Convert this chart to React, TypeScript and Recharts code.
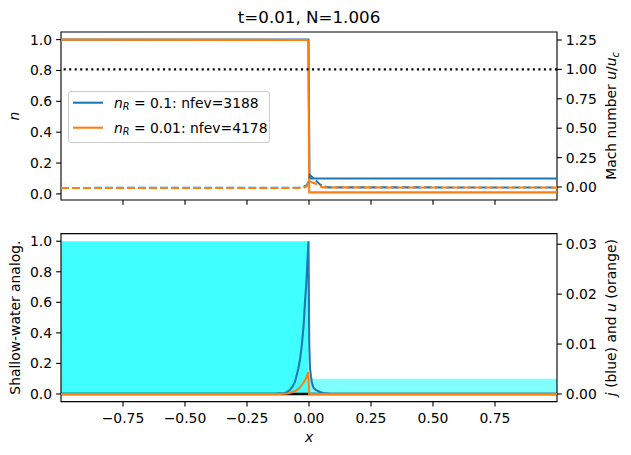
import React from 'react';
import { ComposedChart, Line, Area, XAxis, YAxis, ReferenceLine, ReferenceArea } from 'recharts';

const FONT = '"DejaVu Sans", Verdana, sans-serif';
const BLUE = '#1f77b4';
const ORANGE = '#ff7f0e';
const LW = 2.08;
const DASH = '7.7 3.33';
const DOT = '2.08 3.44';

// ---------- tick labels ----------
const xTicks = [-0.75, -0.5, -0.25, 0, 0.25, 0.5, 0.75];
const nTicks = [0, 0.2, 0.4, 0.6, 0.8, 1.0];
const machTicks = [0, 0.25, 0.5, 0.75, 1.0, 1.25];
const swTicks = [0, 0.2, 0.4, 0.6, 0.8, 1.0];
const juTicks = [0, 0.01, 0.02, 0.03];

// ---------- top panel: density n (left) and Mach number (right) ----------
const nBlueX = [-1, -0.002, 0.002, 1];
const nBlueY = [1.0, 1.0, 0.1, 0.1];
const nOrangeX = [-1, -0.01, -0.003, 0.001, 1];
const nOrangeY = [1.0, 0.998, 0.994, 0.01, 0.01];

const machBlueX = [-1, -0.04, -0.02, -0.008, -0.002, 0.004, 0.015, 0.031, 0.045, 0.058, 0.08, 1];
const machBlueY = [-0.008, -0.006, 0.004, 0.015, 0.05, 0.1, 0.08, 0.048, 0.02, 0.005, -0.003, -0.004];
const machOrangeX = [-1, -0.03, -0.015, -0.006, 0.0, 0.002, 0.012, 0.024, 0.04, 0.055, 1];
const machOrangeY = [-0.009, -0.008, -0.002, 0.015, 0.055, 0.05, 0.04, 0.03, 0.01, -0.003, -0.005];
const machSonic = 1.0;

// ---------- bottom panel: shallow-water analog (left), j and u (right) ----------
const swLeftX = [-1, -0.002];
const swLeftY = [1.0, 1.0];
const swRightX = [-0.002, 1];
const swRightY = [0.1, 0.1];
const baseX = [-1, 1];
const baseY = [0, 0];

const jX = [-1, -0.2, -0.13, -0.097, -0.077, -0.066, -0.056, -0.043, -0.036, -0.029, -0.022, -0.016, -0.011, -0.007, -0.002, 0.001, 0.004, 0.008, 0.011, 0.016, 0.021, 0.031, 0.045, 0.058, 0.08, 0.1, 1];
const jY = [0, 0, 0.00003, 0.00014, 0.0008, 0.0015, 0.0025, 0.0051, 0.007, 0.0098, 0.0135, 0.0185, 0.022, 0.026, 0.0306, 0.01, 0.0052, 0.0035, 0.0025, 0.0015, 0.0011, 0.0007, 0.0004, 0.00015, 0.00004, 0, 0];
const uX = [-1, -0.12, -0.083, -0.056, -0.04, -0.029, -0.018, -0.01, -0.003, 0.001, 1];
const uY = [0, 0, 0.0001, 0.0006, 0.0011, 0.0018, 0.0026, 0.0034, 0.0044, 0, 0];

const zip = (xs: number[], ys: number[]) => xs.map((x, i) => ({ x, y: ys[i] }));

const nDom: [number, number] = [-0.0395, 1.0495];
const machDom: [number, number] = [-0.1105, 1.318];
const swDom: [number, number] = [-0.05, 1.05];
const juDom: [number, number] = [-0.00153, 0.03213];

const tickStyle = { fill: '#000', fontSize: 13.9, fontFamily: FONT };
const tickLine = { stroke: '#000', strokeWidth: 1.11 };
const fmtX = (v: number) => (v < 0 ? '\u2212' : '') + Math.abs(v).toFixed(2);
const fmt1 = (v: number) => v.toFixed(1);
const fmt2 = (v: number) => v.toFixed(2);

const Title = () => (
  <text x={309} y={23} textAnchor="middle" fontFamily={FONT} fontSize={16.7} fill="#000">
    t=0.01, N=1.006
  </text>
);
const NLabel = () => (
  <text x={19} y={116} transform="rotate(-90 19 116)" textAnchor="middle" fontFamily={FONT} fontSize={13.9} fill="#000" fontStyle="italic">
    n
  </text>
);
const MachLabel = () => (
  <text x={616} y={116} transform="rotate(-90 616 116)" textAnchor="middle" fontFamily={FONT} fontSize={13.9} fill="#000">
    Mach number <tspan fontStyle="italic">u</tspan>/<tspan fontStyle="italic">u</tspan>
    <tspan fontStyle="italic" fontSize={9.7} dy={3}>c</tspan>
  </text>
);
const SwLabel = () => (
  <text x={20} y={102.6} transform="rotate(-90 20 102.6)" textAnchor="middle" fontFamily={FONT} fontSize={13.9} fill="#000">
    Shallow-water analog.
  </text>
);
const JuLabel = () => (
  <text x={616} y={102.6} transform="rotate(-90 616 102.6)" textAnchor="middle" fontFamily={FONT} fontSize={13.9} fill="#000">
    <tspan fontStyle="italic">j</tspan> (blue) and <tspan fontStyle="italic">u</tspan> (orange)
  </text>
);
const XLabel = () => (
  <text x={309} y={227} textAnchor="middle" fontFamily={FONT} fontSize={13.9} fill="#000" fontStyle="italic">
    x
  </text>
);

const LegendBox = () => (
  <div
    style={{
      position: 'absolute',
      left: 68,
      top: 91,
      width: 202,
      height: 52,
      boxSizing: 'border-box',
      border: '1px solid #cccccc',
      borderRadius: 3,
      background: 'rgba(255,255,255,0.8)',
    }}
  >
    <svg width={202} height={52} style={{ position: 'absolute', left: -1, top: -1 }}>
      <line x1={5} x2={35} y1={11.7} y2={11.7} stroke={BLUE} strokeWidth={LW} />
      <line x1={5} x2={35} y1={36.7} y2={36.7} stroke={ORANGE} strokeWidth={LW} />
      <text x={46} y={16.5} fontFamily={FONT} fontSize={13.9} fill="#000">
        <tspan fontStyle="italic">n</tspan>
        <tspan fontStyle="italic" fontSize={9.7} dy={2.5}>R</tspan>
        <tspan dy={-2.5}>{' = 0.1: nfev=3188'}</tspan>
      </text>
      <text x={46} y={41.5} fontFamily={FONT} fontSize={13.9} fill="#000">
        <tspan fontStyle="italic">n</tspan>
        <tspan fontStyle="italic" fontSize={9.7} dy={2.5}>R</tspan>
        <tspan dy={-2.5}>{' = 0.01: nfev=4178'}</tspan>
      </text>
    </svg>
  </div>
);

export default function App() {
  return (
    <div style={{ position: 'absolute', left: 0, top: 0, width: 631, height: 455, background: '#fff' }}>
      <div style={{ position: 'absolute', left: 0, top: 0 }}>
        <ComposedChart width={631} height={215} margin={{ top: 32, right: 0, bottom: 0, left: 0 }}>
          <XAxis
            dataKey="x"
            type="number"
            domain={[-1, 1]}
            allowDataOverflow
            ticks={xTicks}
            interval={0}
            height={15}
            axisLine={false}
            tickLine={tickLine}
            tickSize={4.86}
            tickFormatter={() => ''}
            label={<Title />}
          />
          <YAxis
            yAxisId="left"
            type="number"
            domain={nDom}
            allowDataOverflow
            ticks={nTicks}
            interval={0}
            width={61}
            axisLine={false}
            tickLine={tickLine}
            tickSize={4.86}
            tickMargin={4}
            tick={tickStyle}
            tickFormatter={fmt1}
            label={<NLabel />}
          />
          <YAxis
            yAxisId="right"
            orientation="right"
            type="number"
            domain={machDom}
            allowDataOverflow
            ticks={machTicks}
            interval={0}
            width={74}
            axisLine={false}
            tickLine={tickLine}
            tickSize={4.86}
            tickMargin={4}
            tick={tickStyle}
            tickFormatter={fmt2}
            label={<MachLabel />}
          />
          <Line yAxisId="left" data={zip(nBlueX, nBlueY)} dataKey="y" type="linear" stroke={BLUE} strokeWidth={LW} dot={false} isAnimationActive={false} />
          <Line yAxisId="left" data={zip(nOrangeX, nOrangeY)} dataKey="y" type="linear" stroke={ORANGE} strokeWidth={LW} dot={false} isAnimationActive={false} />
          <Line yAxisId="right" data={zip(machBlueX, machBlueY)} dataKey="y" type="linear" stroke={BLUE} strokeWidth={LW} strokeDasharray={DASH} dot={false} isAnimationActive={false} />
          <Line yAxisId="right" data={zip(machOrangeX, machOrangeY)} dataKey="y" type="linear" stroke={ORANGE} strokeWidth={LW} strokeDasharray={DASH} dot={false} isAnimationActive={false} />
          <ReferenceLine yAxisId="right" y={machSonic} stroke="#000" strokeWidth={LW} strokeDasharray={DOT} />
          <ReferenceArea yAxisId="left" x1={-1} x2={1} y1={nDom[0]} y2={nDom[1]} stroke="#000" strokeWidth={1.11} fill="none" fillOpacity={0} />
        </ComposedChart>
      </div>
      <div style={{ position: 'absolute', left: 0, top: 215 }}>
        <ComposedChart width={631} height={240} margin={{ top: 18.6, right: 0, bottom: 0, left: 0 }}>
          <XAxis
            dataKey="x"
            type="number"
            domain={[-1, 1]}
            allowDataOverflow
            ticks={xTicks}
            interval={0}
            height={53.4}
            axisLine={false}
            tickLine={tickLine}
            tickSize={4.86}
            tickMargin={7}
            tick={tickStyle}
            tickFormatter={fmtX}
            label={<XLabel />}
          />
          <YAxis
            yAxisId="left"
            type="number"
            domain={swDom}
            allowDataOverflow
            ticks={swTicks}
            interval={0}
            width={61}
            axisLine={false}
            tickLine={tickLine}
            tickSize={4.86}
            tickMargin={4}
            tick={tickStyle}
            tickFormatter={fmt1}
            label={<SwLabel />}
          />
          <YAxis
            yAxisId="right"
            orientation="right"
            type="number"
            domain={juDom}
            allowDataOverflow
            ticks={juTicks}
            interval={0}
            width={74}
            axisLine={false}
            tickLine={tickLine}
            tickSize={4.86}
            tickMargin={4}
            tick={tickStyle}
            tickFormatter={fmt2}
            label={<JuLabel />}
          />
          <Area yAxisId="left" data={zip(swLeftX, swLeftY)} dataKey="y" type="linear" baseValue={0} stroke="none" fill="#00ffff" fillOpacity={0.75} dot={false} activeDot={false} isAnimationActive={false} />
          <Area yAxisId="left" data={zip(swRightX, swRightY)} dataKey="y" type="linear" baseValue={0} stroke="none" fill="#00ffff" fillOpacity={0.5} dot={false} activeDot={false} isAnimationActive={false} />
          <Line yAxisId="left" data={zip(baseX, baseY)} dataKey="y" type="linear" stroke="#000" strokeWidth={2.5} dot={false} isAnimationActive={false} />
          <Line yAxisId="right" data={zip(jX, jY)} dataKey="y" type="linear" stroke={BLUE} strokeWidth={LW} dot={false} isAnimationActive={false} />
          <Line yAxisId="right" data={zip(uX, uY)} dataKey="y" type="linear" stroke={ORANGE} strokeWidth={LW} dot={false} isAnimationActive={false} />
          <ReferenceArea yAxisId="left" x1={-1} x2={1} y1={swDom[0]} y2={swDom[1]} stroke="#000" strokeWidth={1.11} fill="none" fillOpacity={0} />
        </ComposedChart>
      </div>
      <LegendBox />
    </div>
  );
}
